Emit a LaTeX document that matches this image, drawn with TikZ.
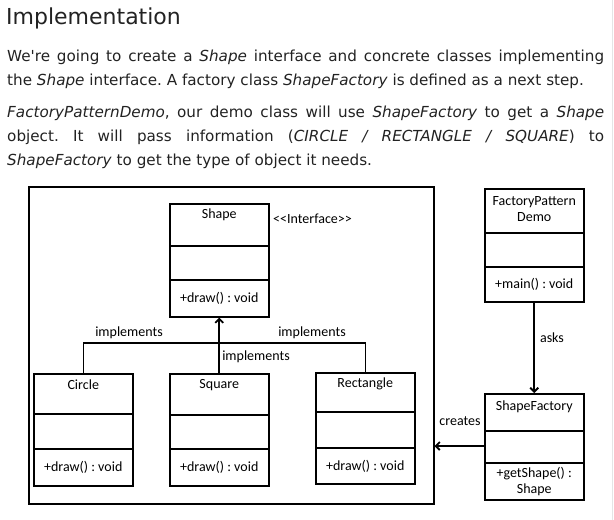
\documentclass[tikz,border=0pt]{standalone}
\usepackage{fontspec}
\setmainfont{DejaVu Sans}
\newfontfamily\umlfont{Carlito}
\usetikzlibrary{arrows.meta,positioning,calc}
\tolerance=10000
\hyphenpenalty=10000
\frenchspacing
\definecolor{txtgray}{RGB}{34,34,34}
\tikzset{
  cls/.style={draw, line width=1.5pt, minimum width=99pt, inner sep=0pt, anchor=north west},
  sep/.style={line width=1.5pt},
  ctxt/.style={font=\umlfont\fontsize{14}{16.5}\selectfont, align=center, inner sep=0pt},
  lnk/.style={line width=1.4pt},
  uarr/.style={-{Straight Barb[length=4pt,width=8pt]}, line width=1.8pt},
  para/.style={font=\fontsize{15.2}{24}\selectfont, text width=597pt, align=justify,
               anchor=north west, inner sep=0pt, text=txtgray},
  hd/.style={font=\fontsize{22}{26}\selectfont, anchor=base west, inner sep=0pt, text=txtgray},
}
% name, top left, height, 1st divider, 2nd divider, title drop, title, method
\newcommand{\umlclass}[8]{%
  \node[cls, minimum height=#3] (#1) at (#2) {};
  \draw[sep] ([yshift=-#4]#1.north west) -- ([yshift=-#4]#1.north east);
  \draw[sep] ([yshift=-#5]#1.north west) -- ([yshift=-#5]#1.north east);
  \node[ctxt] (#1-t) at ([yshift=-#6]#1.north) {#7};
  \node[ctxt] (#1-m) at ($([yshift=-#5]#1.north)!0.5!(#1.south)$) {#8};}

\begin{document}
\begin{tikzpicture}[x=1pt, y=-1pt]
  \useasboundingbox (0,0) rectangle (614,520);
  \draw[gray!20, line width=1.5pt] (612.5,0) -- (612.5,520);
  % heading and text
  \node[hd] (head) at (6,24) {Implementation};
  \node[para] (p1) at (7,50) {We\textquotesingle re going to create a \emph{Shape} interface and concrete classes implementing\linebreak
    the \emph{Shape} interface. A factory class \emph{ShapeFactory} is defined as a next step.};
  \node[para] (p2) at (7,106) {\emph{FactoryPatternDemo}, our demo class will use \emph{ShapeFactory} to get a \emph{Shape}\linebreak
    object. It will pass information (\emph{CIRCLE / RECTANGLE / SQUARE}) to\linebreak
    \emph{ShapeFactory} to get the type of object it needs.};
  % diagram
  \node[cls, minimum width=405pt, minimum height=317pt] (frame) at (28,186) {};
  \umlclass{shape}{169,203}{113pt}{43pt}{77pt}{12pt}{Shape}{+draw() : void}
  \umlclass{circle}{33,373}{112pt}{41pt}{76pt}{12pt}{Circle}{+draw() : void}
  \umlclass{square}{169,373}{112pt}{42pt}{76pt}{12pt}{Square}{+draw() : void}
  \umlclass{rect}{315,372}{111pt}{40pt}{76pt}{12pt}{Rectangle}{+draw() : void}
  \umlclass{demo}{484,188}{113pt}{45pt}{79pt}{21pt}{FactoryPattern\\Demo}{+main() : void}
  \umlclass{factory}{484,393}{106pt}{38pt}{70pt}{14pt}{ShapeFactory}{+getShape() :\\Shape}
  \node[ctxt, anchor=west] (iface) at (273,219) {<\kern0pt<Interface>\kern0pt>};
  \coordinate (jn) at (218,343);
  \draw[lnk] (circle.north) |- (jn) -| (rect.north);
  \draw[uarr] (square.north) -- (shape.south);
  \node[ctxt] (impl1) at (129,333) {implements};
  \node[ctxt] (impl2) at (312,333) {implements};
  \node[ctxt] (impl3) at (256,357) {implements};
  \draw[uarr] (demo.south) -- (factory.north);
  \node[ctxt] (asks) at (552,338) {asks};
  \draw[uarr] (factory.west |- 0,446) -- (frame.east |- 0,446);
  \node[ctxt] (creates) at (460,421) {creates};
\end{tikzpicture}
\end{document}
